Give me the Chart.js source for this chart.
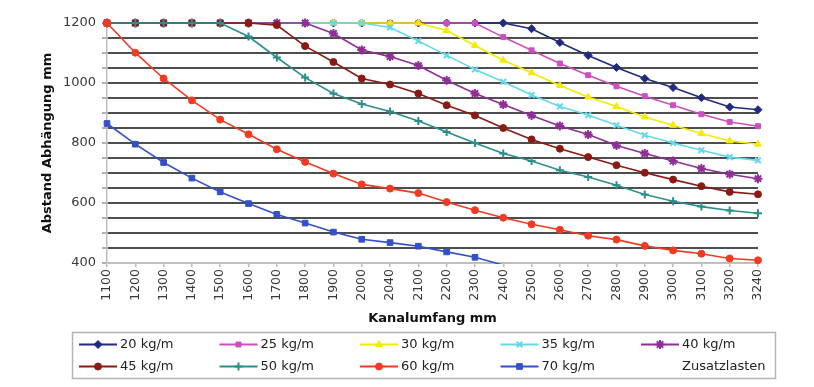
<!DOCTYPE html>
<html>
<head>
<meta charset="utf-8">
<script src="https://cdn.jsdelivr.net/npm/chart.js@4.4.1/dist/chart.umd.min.js"></script>
<style>
  html, body { margin: 0; padding: 0; background: #ffffff; }
  #wrap { width: 814px; height: 387px; position: relative; }
</style>
</head>
<body>
<div id="wrap"><canvas id="c" width="814" height="387"></canvas></div>
<script>
// ---- data ----
const categories = ['1100','1200','1300','1400','1500','1600','1700','1800','1900','2000','2040','2100','2200','2300','2400','2500','2600','2700','2800','2900','3000','3100','3200','3240'];
const yTickLabels = [400, 600, 800, 1000, 1200];
const legendLabels = ['20 kg/m','25 kg/m','30 kg/m','35 kg/m','40 kg/m','45 kg/m','50 kg/m','60 kg/m','70 kg/m','Zusatzlasten'];

const s20 = [1200,1200,1200,1200,1200,1200,1200,1200,1200,1200,1200,1200,1200,1200,1200,1181,1135,1092,1052,1015,985,951,920,911];
const s25 = [1200,1200,1200,1200,1200,1200,1200,1200,1200,1200,1200,1200,1200,1200,1153,1109,1065,1026,989,956,926,896,870,856];
const s30 = [1200,1200,1200,1200,1200,1200,1200,1200,1200,1200,1200,1200,1175,1125,1076,1034,992,953,922,887,859,832,807,796];
const s35 = [1200,1200,1200,1200,1200,1200,1200,1200,1200,1200,1185,1140,1092,1045,1004,960,922,893,859,826,800,776,753,742];
const s40 = [1200,1200,1200,1200,1200,1200,1200,1200,1165,1110,1088,1058,1009,965,928,892,857,828,792,765,740,715,696,681];
const s45 = [1200,1200,1200,1200,1200,1200,1193,1123,1070,1015,995,965,926,892,850,812,781,753,726,701,678,656,637,629];
const s50 = [1200,1200,1200,1200,1200,1155,1085,1018,965,930,905,873,837,800,765,740,709,687,659,628,606,588,575,566];
const s60 = [1200,1101,1015,942,878,829,779,737,698,662,648,633,603,576,551,529,511,491,478,457,442,431,415,409];
const s70 = [865,796,735,683,637,598,562,533,503,479,468,456,437,419,393,372,null,null,null,null,null,null,null,null];

const seriesValues = [s20, s25, s30, s35, s40, s45, s50, s60, s70];
const seriesColors = ['#1f2a80','#cc4fbf','#f5ea00','#66d8ea','#8e2e96','#8a1a14','#2a8f8c','#f03a22','#3350c8'];
const seriesMarkers = ['rectRot','rect','triangle','crossRot','star','circle','cross','circle','rect'];
const seriesRadius = [4,3.5,4,4,4.5,3.5,4,3.5,4];

const datasets = seriesValues.map((vals, i) => ({
  label: legendLabels[i],
  data: vals,
  borderColor: seriesColors[i],
  backgroundColor: seriesColors[i],
  borderWidth: 1.6,
  pointStyle: seriesMarkers[i],
  pointRadius: (c) => (c.raw !== null && c.raw < 400) ? 0 : seriesRadius[i],
  _legendRadius: seriesRadius[i],
  pointBorderWidth: (seriesMarkers[i] === 'crossRot' || seriesMarkers[i] === 'cross' || seriesMarkers[i] === 'star') ? 2 : 1,
  pointBackgroundColor: seriesColors[i],
  pointBorderColor: seriesColors[i],
  tension: 0,
  spanGaps: false,
  order: 20 - i,
  clip: {left: 10, top: 10, right: 10, bottom: 1}
}));

function drawMarker(ctx, style, r, x, y, color, bw) {
  if (Chart.helpers && Chart.helpers.drawPoint) {
    ctx.fillStyle = color; ctx.strokeStyle = color; ctx.lineWidth = bw;
    Chart.helpers.drawPoint(ctx, {pointStyle: style, radius: r, rotation: 0, borderWidth: bw}, x, y);
  } else {
    ctx.fillStyle = color;
    ctx.beginPath(); ctx.arc(x, y, r, 0, Math.PI * 2); ctx.fill();
  }
}

const boxLegend = {
  id: 'boxLegend',
  afterDraw(chart) {
    const ctx = chart.ctx;
    ctx.save();
    ctx.strokeStyle = '#b4b4b4';
    ctx.lineWidth = 1.5;
    ctx.strokeRect(72.5, 332.5, 703, 46);
    ctx.font = '13px "DejaVu Sans", sans-serif';
    ctx.textBaseline = 'middle';
    ctx.textAlign = 'left';
    legendLabels.forEach((lab, i) => {
      const col = i % 5, row = Math.floor(i / 5);
      const x0 = 79 + col * 140.5;
      const y = 344.5 + row * 22;
      const ds = chart.data.datasets[i];
      if (ds) {
        ctx.strokeStyle = ds.borderColor;
        ctx.lineWidth = 1.8;
        ctx.beginPath(); ctx.moveTo(x0, y); ctx.lineTo(x0 + 38, y); ctx.stroke();
        drawMarker(ctx, ds.pointStyle, ds._legendRadius, x0 + 19, y, ds.borderColor, ds.pointBorderWidth);
      }
      ctx.fillStyle = '#222222';
      ctx.fillText(lab, x0 + 41, y + 0.5);
    });
    ctx.restore();
  }
};

new Chart(document.getElementById('c'), {
  type: 'line',
  data: { labels: categories, datasets: datasets },
  plugins: [boxLegend],
  options: {
    responsive: false,
    animation: false,
    maintainAspectRatio: false,
    layout: { padding: { left: 0, right: 56, top: 23, bottom: 60 } },
    plugins: { legend: { display: false }, tooltip: { enabled: false }, title: { display: false } },
    scales: {
      x: {
        type: 'category',
        offset: false,
        border: { color: '#bdbdbd', width: 1.5 },
        grid: { display: true, drawOnChartArea: false, drawTicks: true, tickLength: 4, color: '#bdbdbd', lineWidth: 1.5 },
        ticks: {
          autoSkip: false, maxRotation: 90, minRotation: 90, padding: 2,
          color: '#3a3a3a', font: { family: 'DejaVu Sans', size: 12.5 }
        },
        title: {
          display: true, text: 'Kanalumfang mm', color: '#111111',
          font: { family: 'DejaVu Sans', size: 13, weight: 'bold' },
          padding: { top: 0, bottom: 1 }
        },
        afterFit(scale) { scale.height = 64; }
      },
      y: {
        min: 400, max: 1200,
        border: { color: '#bdbdbd', width: 1.5 },
        grid: {
          color: (c) => (c.tick && c.tick.value === 400) ? '#c4c4c4' : '#4e4e4e',
          lineWidth: 2,
          drawTicks: true, tickLength: 5, tickColor: '#b0b0b0'
        },
        ticks: {
          stepSize: 50, maxTicksLimit: 40, autoSkip: false, padding: 6, color: '#3a3a3a',
          font: { family: 'DejaVu Sans', size: 13 },
          callback: (v) => (yTickLabels.indexOf(v) >= 0 ? String(v) : '')
        },
        title: {
          display: true, text: 'Abstand Abhängung mm', color: '#111111',
          font: { family: 'DejaVu Sans', size: 13, weight: 'bold' },
          padding: { top: 40, bottom: 0 }
        },
        afterFit(scale) { scale.width = 107; }
      }
    }
  }
});
</script>
</body>
</html>
